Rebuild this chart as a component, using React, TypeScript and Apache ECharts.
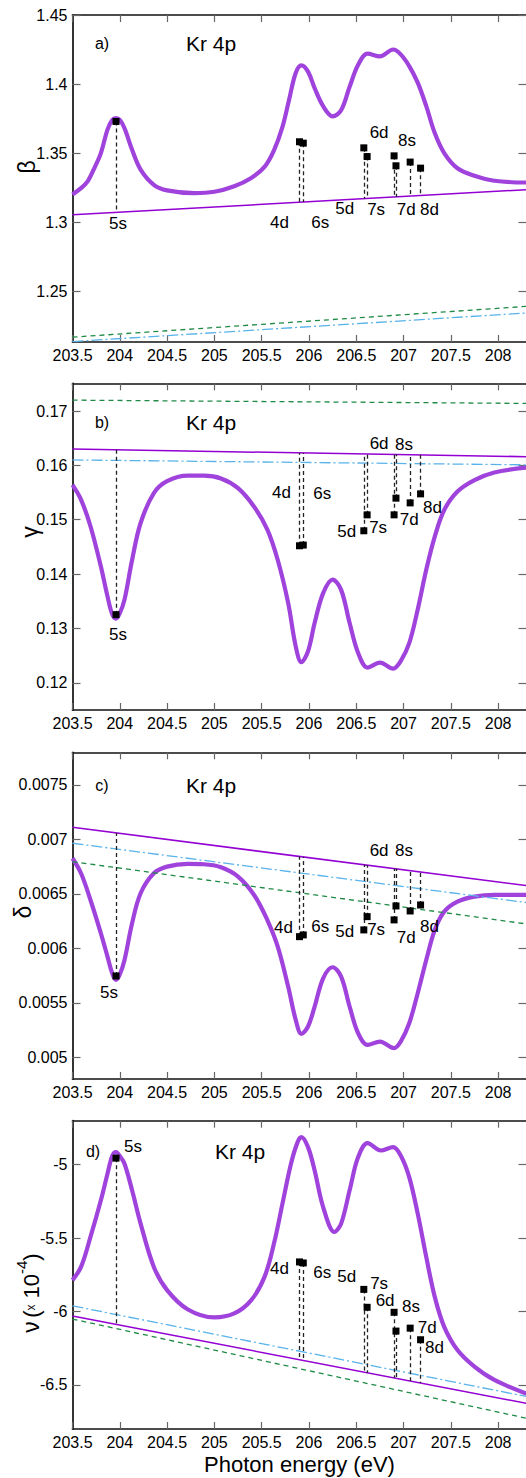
import React, { useEffect, useRef } from "react";
import * as echarts from "echarts";

// ---------- data ----------
const energyTicks = [203.5, 204, 204.5, 205, 205.5, 206, 206.5, 207, 207.5, 208];

const resNames = ["5s", "4d", "6s", "5d", "7s", "6d", "8s", "7d", "8d"];
const resEnergy = [203.96, 205.9, 205.94, 206.58, 206.615, 206.9, 206.92, 207.07, 207.18];

// panel a) beta
const betaCurve: [number, number][] = [
  [203.5, 1.32], [203.59, 1.3246], [203.66, 1.3295], [203.73, 1.339], [203.8, 1.35], [203.87, 1.367],
  [203.92, 1.374], [203.96, 1.3754], [204.0, 1.374], [204.05, 1.368], [204.13, 1.3524], [204.22, 1.338],
  [204.36, 1.327], [204.5, 1.323], [204.79, 1.321], [205.0, 1.322], [205.21, 1.326], [205.39, 1.332],
  [205.53, 1.34], [205.63, 1.352], [205.72, 1.369], [205.79, 1.3887], [205.86, 1.408], [205.92, 1.4135],
  [205.99, 1.409], [206.06, 1.397], [206.15, 1.384], [206.25, 1.3766], [206.34, 1.381], [206.43, 1.398],
  [206.52, 1.414], [206.62, 1.422], [206.75, 1.42], [206.89, 1.425], [206.97, 1.4215], [207.06, 1.413],
  [207.15, 1.401], [207.24, 1.384], [207.33, 1.3645], [207.43, 1.35], [207.57, 1.339], [207.75, 1.3336],
  [207.96, 1.33], [208.3, 1.3287],
];
const betaSolid: [number, number][] = [[203.5, 1.3053], [208.3, 1.3235]];
const betaDashDot: [number, number][] = [[203.5, 1.2135], [208.3, 1.2342]];
const betaDashed: [number, number][] = [[203.5, 1.2167], [208.3, 1.239]];
const betaRes = [1.3729, 1.3582, 1.3572, 1.3538, 1.3475, 1.348, 1.3408, 1.3435, 1.3391];
const betaTicks = [1.25, 1.3, 1.35, 1.4, 1.45];

// panel b) gamma
const gammaCurve: [number, number][] = [
  [203.5, 0.1564], [203.59, 0.1537], [203.69, 0.1488], [203.8, 0.1414], [203.87, 0.1359], [203.92, 0.1326],
  [203.96, 0.1318], [204.0, 0.1328], [204.05, 0.1353], [204.13, 0.1426], [204.22, 0.1494], [204.36, 0.1549],
  [204.5, 0.1571], [204.72, 0.1581], [204.89, 0.1581], [205.07, 0.1576], [205.25, 0.1558], [205.42, 0.1524],
  [205.56, 0.1482], [205.67, 0.1426], [205.78, 0.1347], [205.86, 0.1267], [205.92, 0.1238], [205.99, 0.1258],
  [206.06, 0.131], [206.15, 0.1365], [206.25, 0.139], [206.34, 0.1371], [206.43, 0.131], [206.52, 0.1255],
  [206.62, 0.1228], [206.75, 0.1237], [206.89, 0.1226], [206.97, 0.124], [207.06, 0.1273], [207.15, 0.1335],
  [207.24, 0.1408], [207.33, 0.1469], [207.43, 0.1518], [207.57, 0.1552], [207.75, 0.1573], [207.96, 0.1587],
  [208.3, 0.1596],
];
const gammaSolid: [number, number][] = [[203.5, 0.163], [208.3, 0.1616]];
const gammaDashDot: [number, number][] = [[203.5, 0.161], [208.3, 0.1601]];
const gammaDashed: [number, number][] = [[203.5, 0.172], [208.3, 0.1714]];
const gammaRes = [0.13254, 0.14521, 0.14534, 0.14797, 0.1509, 0.1509, 0.15397, 0.1531, 0.15476];
const gammaTicks = [0.12, 0.13, 0.14, 0.15, 0.16, 0.17];

// panel c) delta
const deltaCurve: [number, number][] = [
  [203.5, 0.006827], [203.59, 0.006689], [203.69, 0.006444], [203.8, 0.006138], [203.87, 0.005924],
  [203.92, 0.00577], [203.96, 0.00571], [204.0, 0.00576], [204.05, 0.005893], [204.13, 0.00623],
  [204.22, 0.006506], [204.36, 0.006689], [204.5, 0.00675], [204.72, 0.006775], [204.89, 0.006772],
  [205.07, 0.006744], [205.25, 0.006659], [205.42, 0.00649], [205.56, 0.00626], [205.67, 0.006016],
  [205.78, 0.005649], [205.86, 0.005343], [205.92, 0.005214], [205.99, 0.005282], [206.06, 0.005465],
  [206.15, 0.005725], [206.25, 0.005826], [206.34, 0.00574], [206.43, 0.005465], [206.52, 0.00522],
  [206.62, 0.005113], [206.75, 0.005144], [206.9, 0.005083], [206.97, 0.005144], [207.06, 0.005312],
  [207.15, 0.005588], [207.24, 0.005893], [207.33, 0.006169], [207.43, 0.006337], [207.57, 0.006429],
  [207.75, 0.006475], [207.96, 0.00649], [208.3, 0.00649],
];
const deltaSolid: [number, number][] = [[203.5, 0.007111], [208.3, 0.006576]];
const deltaDashDot: [number, number][] = [[203.5, 0.006965], [208.3, 0.00642]];
const deltaDashed: [number, number][] = [[203.5, 0.006796], [208.3, 0.006224]];
const deltaRes = [0.005746, 0.006107, 0.006123, 0.006169, 0.006291, 0.006261, 0.006389, 0.006343, 0.006398];
const deltaTicks = [0.005, 0.0055, 0.006, 0.0065, 0.007, 0.0075];

// panel d) nu (x 10^-4)
const nuCurve: [number, number][] = [
  [203.5, -5.786], [203.59, -5.696], [203.69, -5.492], [203.8, -5.242], [203.87, -5.061], [203.92, -4.94],
  [203.96, -4.914], [204.0, -4.94], [204.05, -4.993], [204.13, -5.174], [204.22, -5.401], [204.36, -5.696],
  [204.5, -5.854], [204.72, -5.986], [205.0, -6.04], [205.21, -6.013], [205.39, -5.922], [205.53, -5.764],
  [205.63, -5.537], [205.72, -5.265], [205.81, -4.993], [205.88, -4.846], [205.92, -4.812], [205.99, -4.88],
  [206.06, -5.039], [206.15, -5.288], [206.27, -5.458], [206.34, -5.401], [206.43, -5.174], [206.52, -4.948],
  [206.62, -4.853], [206.76, -4.903], [206.89, -4.88], [206.97, -4.937], [207.06, -5.084], [207.15, -5.333],
  [207.24, -5.628], [207.33, -5.9], [207.43, -6.104], [207.57, -6.262], [207.75, -6.375], [207.96, -6.466],
  [208.3, -6.56],
];
const nuSolid: [number, number][] = [[203.5, -6.031], [208.3, -6.625]];
const nuDashDot: [number, number][] = [[203.5, -5.961], [208.3, -6.579]];
const nuDashed: [number, number][] = [[203.5, -6.051], [208.3, -6.727]];
const nuRes = [-4.955, -5.662, -5.669, -5.849, -5.971, -6.005, -6.133, -6.113, -6.192];
const nuTicks = [-6.5, -6, -5.5, -5];

// ---------- layout / style ----------
const FONT = "'Liberation Sans', Arial, Helvetica, sans-serif";
const X_MIN = 203.5;
const X_MAX = 208.3;

type Panel = {
  letter: string;
  curve: [number, number][];
  solid: [number, number][];
  dashDot: [number, number][];
  dashed: [number, number][];
  res: number[];
  ticks: number[];
  ymin: number;
  ymax: number;
  top: number;
  height: number;
  name: string;
  namePos: [number, number];
  labelOffsets: [number, number][];
  letterPos: [number, number];
  titlePos: [number, number];
};

const panels: Panel[] = [
  {
    letter: "a)", curve: betaCurve, solid: betaSolid, dashDot: betaDashDot, dashed: betaDashed, res: betaRes,
    ticks: betaTicks, ymin: 1.2132, ymax: 1.45, top: 15, height: 327, name: "{n|β}", namePos: [24, 167],
    labelOffsets: [[2, 102], [-20, 81], [17, 79], [-19, 61], [9, 53], [-15, -23], [11, -25], [-4, 47], [9, 41]],
    letterPos: [102, 43], titlePos: [211, 43],
  },
  {
    letter: "b)", curve: gammaCurve, solid: gammaSolid, dashDot: gammaDashDot, dashed: gammaDashed, res: gammaRes,
    ticks: gammaTicks, ymin: 0.115, ymax: 0.1751, top: 383.3, height: 326.7, name: "{n|γ}", namePos: [27, 532],
    labelOffsets: [[2, 20], [-18, -53], [19, -52], [-17, 1], [11, 13], [-15, -71], [8, -54], [-1, 17], [12, 14]],
    letterPos: [102, 422], titlePos: [211, 422],
  },
  {
    letter: "c)", curve: deltaCurve, solid: deltaSolid, dashDot: deltaDashDot, dashed: deltaDashed, res: deltaRes,
    ticks: deltaTicks, ymin: 0.0048, ymax: 0.0078, top: 752.3, height: 326.7, name: "{n|δ}", namePos: [20, 912],
    labelOffsets: [[-7, 17], [-16, -9], [17, -8], [-19, 2], [9, 13], [-15, -69], [8, -55], [-4, 27], [9, 22]],
    letterPos: [102, 785], titlePos: [211, 785],
  },
  {
    letter: "d)", curve: nuCurve, solid: nuSolid, dashDot: nuDashDot, dashed: nuDashed, res: nuRes,
    ticks: nuTicks, ymin: -6.8, ymax: -4.7, top: 1120.7, height: 308.3,
    name: "{n|ν} {p|(}{x|x}{p| 10}{s|-4}{p|)}", namePos: [28, 1293],
    labelOffsets: [[17, -12], [-20, 7], [19, 10], [-17, -13], [12, -24], [-9, -12], [15, -25], [17, -1], [14, 8]],
    letterPos: [93, 1151], titlePos: [240, 1151],
  },
];

const GRID_LEFT = 72.5;
const GRID_WIDTH = 454;

const nameRich = {
  n: { fontSize: 23, fontFamily: FONT, fill: "#000", lineHeight: 28, verticalAlign: "bottom" },
  p: { fontSize: 22, fontFamily: FONT, fill: "#000", lineHeight: 28, verticalAlign: "bottom" },
  x: { fontSize: 12, fontFamily: FONT, fill: "#000", lineHeight: 28, verticalAlign: "bottom", padding: [0, 0, 5, 0] },
  s: { fontSize: 15, fontFamily: FONT, fill: "#000", lineHeight: 15, verticalAlign: "top" },
};

function lineAt(seg: [number, number][], x: number): number {
  const [[x0, y0], [x1, y1]] = seg;
  return y0 + ((y1 - y0) * (x - x0)) / (x1 - x0);
}

function buildOption() {
  const grid: any[] = [];
  const xAxis: any[] = [];
  const yAxis: any[] = [];
  const series: any[] = [];
  const graphic: any[] = [];

  const axisLine = { show: true, onZero: false, lineStyle: { color: "#111", width: 1.7 } };
  const tickStyle = { color: "#666", width: 1.2 };

  panels.forEach((p, i) => {
    grid.push({
      left: GRID_LEFT, top: p.top, width: GRID_WIDTH, height: p.height,
      containLabel: false, outerBoundsMode: "none",
    });

    const isLast = i === panels.length - 1;
    xAxis.push({
      type: "value", gridIndex: i, min: X_MIN, max: X_MAX, position: "bottom",
      axisLine,
      axisTick: { show: true, inside: true, length: 7, customValues: energyTicks, lineStyle: tickStyle },
      axisLabel: {
        show: true, customValues: energyTicks, formatter: (v: number) => String(v),
        fontSize: 16, color: "#000", margin: 5, fontFamily: FONT,
        hideOverlap: false,
      },
      splitLine: { show: false },
      name: isLast ? "Photon energy (eV)" : "",
      nameLocation: "middle",
      nameGap: 24,
      nameMoveOverlap: false,
      nameTextStyle: { fontSize: 22, color: "#000", fontFamily: FONT },
    });
    xAxis.push({
      type: "value", gridIndex: i, min: X_MIN, max: X_MAX, position: "top",
      axisLine,
      axisTick: { show: true, inside: true, length: 7, customValues: energyTicks, lineStyle: tickStyle },
      axisLabel: { show: false },
      splitLine: { show: false },
    });
    yAxis.push({
      type: "value", gridIndex: i, min: p.ymin, max: p.ymax, position: "left",
      axisLine,
      axisTick: { show: true, inside: true, length: 8, customValues: p.ticks, lineStyle: tickStyle },
      axisLabel: {
        show: true, customValues: p.ticks, formatter: (v: number) => String(v),
        fontSize: 16, color: "#000", margin: 5, fontFamily: FONT,
        hideOverlap: false,
      },
      splitLine: { show: false },
    });
    yAxis.push({
      type: "value", gridIndex: i, min: p.ymin, max: p.ymax, position: "right",
      axisLine,
      axisTick: { show: true, inside: true, length: 8, customValues: p.ticks, lineStyle: tickStyle },
      axisLabel: { show: false },
      splitLine: { show: false },
    });

    const xi = 2 * i;
    const yi = 2 * i;

    series.push({
      type: "line", xAxisIndex: xi, yAxisIndex: yi, data: p.curve, smooth: 0.35,
      showSymbol: false, silent: true, z: 2,
      lineStyle: { color: "#a043dc", width: 4.2 },
    });
    series.push({
      type: "line", xAxisIndex: xi, yAxisIndex: yi, data: p.solid, showSymbol: false, silent: true, z: 3,
      lineStyle: { color: "#9400d3", width: 1.5 },
    });
    series.push({
      type: "line", xAxisIndex: xi, yAxisIndex: yi, data: p.dashDot, showSymbol: false, silent: true, z: 3,
      lineStyle: { color: "#58b3ea", width: 1.3, type: [11, 3, 2, 3] },
    });
    series.push({
      type: "line", xAxisIndex: xi, yAxisIndex: yi, data: p.dashed, showSymbol: false, silent: true, z: 3,
      lineStyle: { color: "#1e8a45", width: 1.3, type: [5, 4] },
    });

    const labelStyle = {
      show: true, position: "inside", formatter: "{b}",
      color: "#000", fontSize: 17, fontFamily: FONT, textBorderWidth: 0,
      align: "center", verticalAlign: "middle",
    };
    const pts = resEnergy.map((x, j) => ({
      value: [x, p.res[j]],
      name: resNames[j],
      label: { ...labelStyle, offset: p.labelOffsets[j] },
    }));
    series.push({
      type: "scatter", xAxisIndex: xi, yAxisIndex: yi, data: pts, symbol: "rect", symbolSize: 7,
      itemStyle: { color: "#000", opacity: 1 }, z: 5, silent: true,
      label: labelStyle,
      markLine: {
        silent: true, symbol: ["none", "none"], animation: false,
        label: { show: false },
        lineStyle: { color: "#222", width: 1.3, type: [4, 3], opacity: 1 },
        emphasis: { disabled: true },
        data: resEnergy.map((x, j) => [
          { coord: [x, p.res[j]] },
          { coord: [x, lineAt(p.solid, x)] },
        ]),
      },
    });

    graphic.push({
      type: "text", x: p.letterPos[0], y: p.letterPos[1], silent: true,
      style: { text: p.letter, fontSize: 16, fontFamily: FONT, fill: "#000", align: "center", verticalAlign: "middle" },
    });
    graphic.push({
      type: "text", x: p.titlePos[0], y: p.titlePos[1], silent: true,
      style: { text: "Kr 4p", fontSize: 21, fontFamily: FONT, fill: "#000", align: "center", verticalAlign: "middle" },
    });
    // y-axis name (rotated)
    graphic.push({
      type: "text", x: p.namePos[0], y: p.namePos[1], rotation: Math.PI / 2, silent: true,
      style: {
        text: p.name, fontFamily: FONT, fill: "#000", align: "center", verticalAlign: "middle",
        rich: nameRich,
      },
    });
  });

  return {
    animation: false,
    backgroundColor: "#fff",
    textStyle: { fontFamily: FONT },
    grid,
    xAxis,
    yAxis,
    series,
    graphic,
  };
}

export default function App() {
  const ref = useRef<HTMLDivElement>(null);
  useEffect(() => {
    document.body.style.margin = "0";
    if (!ref.current) return;
    const chart = echarts.init(ref.current, undefined, { renderer: "svg" });
    chart.setOption(buildOption() as any);
    return () => chart.dispose();
  }, []);
  return <div ref={ref} style={{ width: 526, height: 1478, overflow: "hidden" }} />;
}
